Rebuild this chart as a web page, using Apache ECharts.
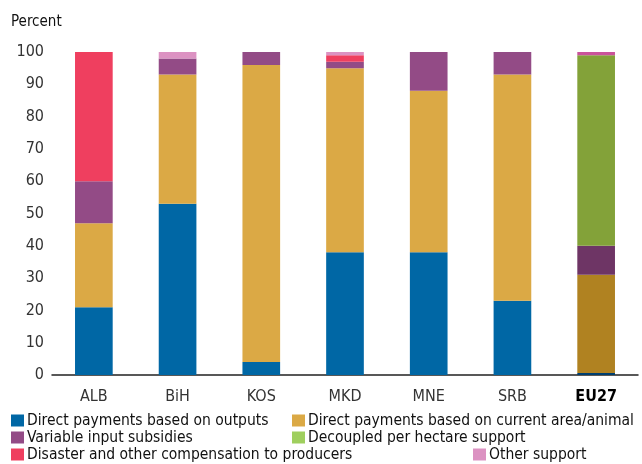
<!DOCTYPE html>
<html>
<head>
<meta charset="utf-8">
<style>
  html, body { margin: 0; padding: 0; background: #ffffff; }
  #chart { width: 642px; height: 464px; }
</style>
<script src="https://cdn.jsdelivr.net/npm/echarts@6/dist/echarts.min.js"></script>
</head>
<body>
<div id="chart"></div>
<script>
// Economies on the horizontal axis
const categories = ['ALB', 'BiH', 'KOS', 'MKD', 'MNE', 'SRB', 'EU27'];

// Shares of each support type, percent of total
const outputsShare   = [21, 53, 4, 38, 38, 23, 0.6];
const areaShare      = [26, 40, 92, 57, 50, 70, 30.4];
const inputShare     = [13, 5, 4, 2, 12, 7, 9];
const decoupledShare = [0, 0, 0, 0, 0, 0, 59];
const disasterShare  = [40, 0, 0, 2, 0, 0, 0];
const otherShare     = [0, 2, 0, 1, 0, 0, 1];

// Value axis ticks
const yTicks = [0, 10, 20, 30, 40, 50, 60, 70, 80, 90, 100];

const seriesNames = [
  'Direct payments based on outputs',
  'Direct payments based on current area/animal',
  'Variable input subsidies',
  'Decoupled per hectare support',
  'Disaster and other compensation to producers',
  'Other support'
];
const seriesData = [outputsShare, areaShare, inputShare, decoupledShare, disasterShare, otherShare];

// Palette: regular shades, and the darker shades used for the EU27 column
const baseColors = ['#0067a5', '#dba945', '#934b86', '#9fcf5e', '#ef3f5f', '#dc92c2'];
const euColors   = ['#003f6f', '#b08221', '#6e3565', '#83a239', '#ef3f5f', '#ca539b'];
const EU_INDEX = categories.indexOf('EU27');

const FONT = '"DejaVu Sans Condensed", "DejaVu Sans", sans-serif';

const chart = echarts.init(document.getElementById('chart'), null, { renderer: 'canvas' });

const series = seriesNames.map((name, s) => ({
  name: name,
  type: 'bar',
  stack: 'total',
  barWidth: '45%',
  itemStyle: { color: baseColors[s] },
  emphasis: { disabled: true },
  data: seriesData[s].map((v, i) => (
    i === EU_INDEX ? { value: v, itemStyle: { color: euColors[s] } } : v
  ))
}));

// One legend block per entry so the entries sit in a three-row layout
const legendSlots = [
  { left: 11,  top: 412 },
  { left: 292, top: 412 },
  { left: 11,  top: 429 },
  { left: 292, top: 429 },
  { left: 11,  top: 446 },
  { left: 473, top: 446 }
];
const legends = legendSlots.map((slot, s) => ({
  data: [seriesNames[s]],
  left: slot.left,
  top: slot.top,
  padding: 0,
  icon: 'rect',
  itemWidth: 13,
  itemHeight: 12,
  selectedMode: false,
  textStyle: { fontFamily: FONT, fontSize: 15.5, color: '#111', lineHeight: 17, padding: [0, 0, 0, -2] }
}));

chart.setOption({
  animation: false,
  backgroundColor: '#ffffff',
  textStyle: { fontFamily: FONT },
  title: {
    text: 'Percent',
    left: 11,
    top: 15,
    padding: 0,
    textStyle: { fontFamily: FONT, fontSize: 15, fontWeight: 'normal', color: '#111' }
  },
  grid: { left: 52, right: 4, top: 52, bottom: 89, containLabel: false },
  legend: legends,
  xAxis: {
    type: 'category',
    data: categories,
    axisLine: { show: true, lineStyle: { color: '#222', width: 1.5 } },
    axisTick: { show: false },
    axisLabel: {
      interval: 0,
      margin: 14,
      fontFamily: FONT,
      fontSize: 16,
      color: '#333',
      formatter: (v) => (v === 'EU27' ? '{eu|' + v + '}' : v),
      rich: { eu: { fontFamily: FONT, fontSize: 16, color: '#000', fontWeight: 'bold' } }
    }
  },
  yAxis: {
    type: 'value',
    min: yTicks[0],
    max: yTicks[yTicks.length - 1],
    interval: yTicks[1] - yTicks[0],
    axisLine: { show: false },
    axisTick: { show: false },
    splitLine: { show: false },
    axisLabel: { margin: 8, fontFamily: FONT, fontSize: 16, color: '#333' }
  },
  series: series
});
</script>
</body>
</html>
